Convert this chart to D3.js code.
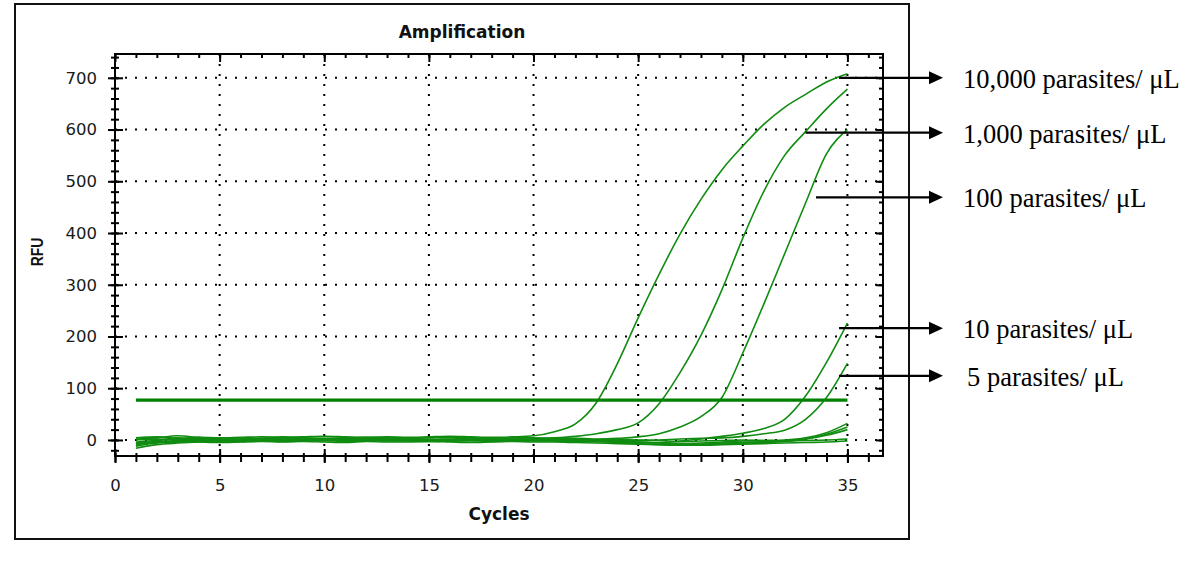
<!DOCTYPE html>
<html>
<head>
<meta charset="utf-8">
<script src="https://cdn.jsdelivr.net/npm/d3@7/dist/d3.min.js"></script>
<style>
  html, body { margin: 0; padding: 0; background: #fff; }
  svg { display: block; }
</style>
</head>
<body>
<svg id="chart" width="1200" height="564"></svg>
<script>
// ---------------- data ----------------
const cycles = [1,2,3,4,5,6,7,8,9,10,11,12,13,14,15,16,17,18,19,20,21,22,23,24,25,26,27,28,29,30,31,32,33,34,35];

const s10000 = [-4,-1,2,5,4,5,6,5,6,7,6,5,6,5,6,7,6,5,6,8,16,31,72,147,236,320,398,465,522,568,610,643,668,692,708];
const s1000  = [-6,-3,-1,0,-1,0,1,0,1,2,1,0,1,0,-1,0,1,0,1,2,4,7,12,20,33,70,130,202,290,390,480,550,596,640,678];
const s100   = [2,0,4,1,-1,-3,-2,0,-1,1,-1,0,-2,-1,0,-1,-1,-2,-1,0,-1,0,1,3,6,12,25,45,82,168,262,360,458,553,600];
const s10    = [-9,-5,-3,-1,-2,-3,-2,-3,-2,-1,-3,-2,-1,-2,-3,-2,-1,-3,-2,-1,-2,-3,-2,-3,-4,-5,-2,2,7,13,22,40,85,150,226];
const s5     = [-12,-6,-4,-2,-3,-2,0,-1,-2,-1,0,-1,0,-1,-1,-2,-1,0,-1,-2,-1,-1,0,-1,-1,0,2,3,4,7,12,19,40,82,148];
const nc1    = [4,6,3,1,1,2,2,4,2,2,3,3,2,2,1,2,3,2,2,2,1,0,-1,-2,-4,-6,-7,-6,-4,-2,-1,0,4,14,32];
const nc2    = [-16,-9,-6,-4,-3,-2,-1,1,0,-1,0,1,0,0,1,0,-1,0,1,0,0,-1,-3,-5,-7,-9,-10,-9,-8,-6,-5,-3,2,11,25];
const nc3    = [1,4,8,5,3,4,3,6,4,3,4,5,4,3,4,5,4,3,4,4,3,3,2,1,0,-1,-3,-2,-1,0,-1,-2,2,9,20];
const nc4    = [0,2,1,3,2,1,1,2,3,2,1,1,2,2,0,1,1,2,1,0,-1,-2,-3,-4,-5,-6,-7,-8,-6,-5,-3,-2,-1,0,2];
const nc5    = [-8,-5,-3,-4,-5,-4,-3,-4,-3,-4,-5,-3,-4,-4,-3,-4,-5,-4,-3,-4,-4,-5,-6,-7,-8,-9,-10,-10,-9,-8,-7,-6,-5,-4,-2];

const seriesList = [s10000, s1000, s100, s10, s5, nc1, nc2, nc3, nc4, nc5];

const threshold = 77;
const thresholdCycles = [1, 35];

const xTicks = [0,5,10,15,20,25,30,35];
const yTicks = [0,100,200,300,400,500,600,700];

const annLabels = ["10,000 parasites/ \u03bcL", "1,000 parasites/ \u03bcL", "100 parasites/ \u03bcL", "10 parasites/ \u03bcL", "5 parasites/ \u03bcL"];
const annCycle  = [34.6, 33.0, 33.5, 34.6, 34.6];
const annRFU    = [700, 594, 469, 216, 124];

const titleText = "Amplification";
const xTitle = "Cycles";
const yTitle = "RFU";

// ---------------- layout ----------------
const plot = {left: 115, right: 883, top: 54, bottom: 456};
const svg = d3.select("#chart");

const x = d3.scaleLinear().domain([0, 36.7]).range([plot.left, plot.right]);
const y = d3.scaleLinear().domain([-31, 746]).range([plot.bottom, plot.top]);

// outer box
svg.append("rect").attr("x", 15).attr("y", 4).attr("width", 894).attr("height", 535)
  .attr("fill", "none").attr("stroke", "#111").attr("stroke-width", 2);

// title
svg.append("text").attr("x", 462).attr("y", 38).attr("text-anchor", "middle")
  .attr("font-family", "DejaVu Sans").attr("font-weight", "bold").attr("font-size", 17)
  .attr("fill", "#111").text(titleText);

// grid (dotted)
const grid = svg.append("g").attr("stroke", "#000").attr("stroke-width", 2).attr("stroke-dasharray", "2 8");
grid.selectAll("line.gx").data(xTicks.filter(d => d > 0)).join("line")
  .attr("x1", d => x(d)).attr("x2", d => x(d)).attr("y1", plot.bottom).attr("y2", plot.top);
grid.selectAll("line.gy").data(yTicks).join("line")
  .attr("y1", d => y(d)).attr("y2", d => y(d)).attr("x1", plot.left).attr("x2", plot.right);

// curves
const line = d3.line().x((d, i) => x(cycles[i])).y(d => y(d)).curve(d3.curveMonotoneX);
svg.append("g").selectAll("path").data(seriesList).join("path")
  .attr("d", line).attr("fill", "none").attr("stroke", "#108c10").attr("stroke-width", 1.6);

// threshold
svg.append("line")
  .attr("x1", x(thresholdCycles[0])).attr("x2", x(thresholdCycles[1]))
  .attr("y1", y(threshold)).attr("y2", y(threshold))
  .attr("stroke", "#008000").attr("stroke-width", 3.4);

// axes
const minorX = d3.range(0, 37, 1);
const minorY = d3.range(-20, 746, 20);
const tickFont = g => g.attr("font-family", "DejaVu Sans").attr("font-size", 16.5)
  .call(s => s.selectAll("text").attr("fill", "#1a1a1a"))
  .call(s => s.select(".domain").remove())
  .call(s => s.selectAll("line").attr("stroke", "#000").attr("stroke-width", 2));

// left
svg.append("g").attr("transform", `translate(${plot.left},0)`)
  .call(d3.axisLeft(y).tickValues(minorY).tickSize(4).tickFormat(""))
  .call(tickFont).call(g => g.selectAll("line").attr("x1", 4));
svg.append("g").attr("transform", `translate(${plot.left},0)`)
  .call(d3.axisLeft(y).tickValues(yTicks).tickSize(7).tickPadding(11))
  .call(tickFont).call(g => g.selectAll("line").attr("x1", 8));
// bottom
svg.append("g").attr("transform", `translate(0,${plot.bottom})`)
  .call(d3.axisBottom(x).tickValues(minorX).tickSize(6).tickFormat(""))
  .call(tickFont).call(g => g.selectAll("line").attr("y1", -3));
svg.append("g").attr("transform", `translate(0,${plot.bottom})`)
  .call(d3.axisBottom(x).tickValues(xTicks).tickSize(7).tickPadding(16))
  .call(tickFont).call(g => g.selectAll("line").attr("y1", -7));
// top
svg.append("g").attr("transform", `translate(0,${plot.top})`)
  .call(d3.axisTop(x).tickValues(minorX).tickSize(-4).tickFormat(""))
  .call(tickFont);
svg.append("g").attr("transform", `translate(0,${plot.top})`)
  .call(d3.axisTop(x).tickValues(xTicks).tickSize(-8).tickFormat(""))
  .call(tickFont);
// right
svg.append("g").attr("transform", `translate(${plot.right},0)`)
  .call(d3.axisRight(y).tickValues(minorY).tickSize(-4).tickFormat(""))
  .call(tickFont);
svg.append("g").attr("transform", `translate(${plot.right},0)`)
  .call(d3.axisRight(y).tickValues(yTicks).tickSize(-7).tickFormat(""))
  .call(tickFont);

// frame
svg.append("rect").attr("x", plot.left).attr("y", plot.top)
  .attr("width", plot.right - plot.left).attr("height", plot.bottom - plot.top)
  .attr("fill", "none").attr("stroke", "#000").attr("stroke-width", 2);

// axis titles
svg.append("text").attr("x", (plot.left + plot.right) / 2).attr("y", 520).attr("text-anchor", "middle")
  .attr("font-family", "DejaVu Sans").attr("font-weight", "bold").attr("font-size", 17)
  .attr("fill", "#111").text(xTitle);
svg.append("text").attr("transform", `translate(43,${(plot.top + plot.bottom) / 2 - 3}) scale(1.2,1) rotate(-90)`)
  .attr("text-anchor", "middle")
  .attr("font-family", "Liberation Sans").attr("font-weight", "bold").attr("font-size", 14)
  .attr("fill", "#111").text(yTitle);

// annotations
const arrowTipX = 943;
const ann = svg.append("g");
annLabels.forEach((label, i) => {
  const ax = x(annCycle[i]);
  const ay = y(annRFU[i]);
  ann.append("line").attr("x1", ax).attr("x2", arrowTipX - 10).attr("y1", ay).attr("y2", ay)
    .attr("stroke", "#000").attr("stroke-width", 2.2);
  ann.append("path")
    .attr("d", `M${arrowTipX},${ay} L${arrowTipX - 14},${ay - 6.5} L${arrowTipX - 14},${ay + 6.5} Z`)
    .attr("fill", "#000");
  ann.append("text").attr("x", i === 4 ? 967 : 963).attr("y", ay + 10)
    .attr("font-family", "Liberation Serif").attr("font-size", 26.5)
    .attr("fill", "#000").text(label);
});
</script>
</body>
</html>
